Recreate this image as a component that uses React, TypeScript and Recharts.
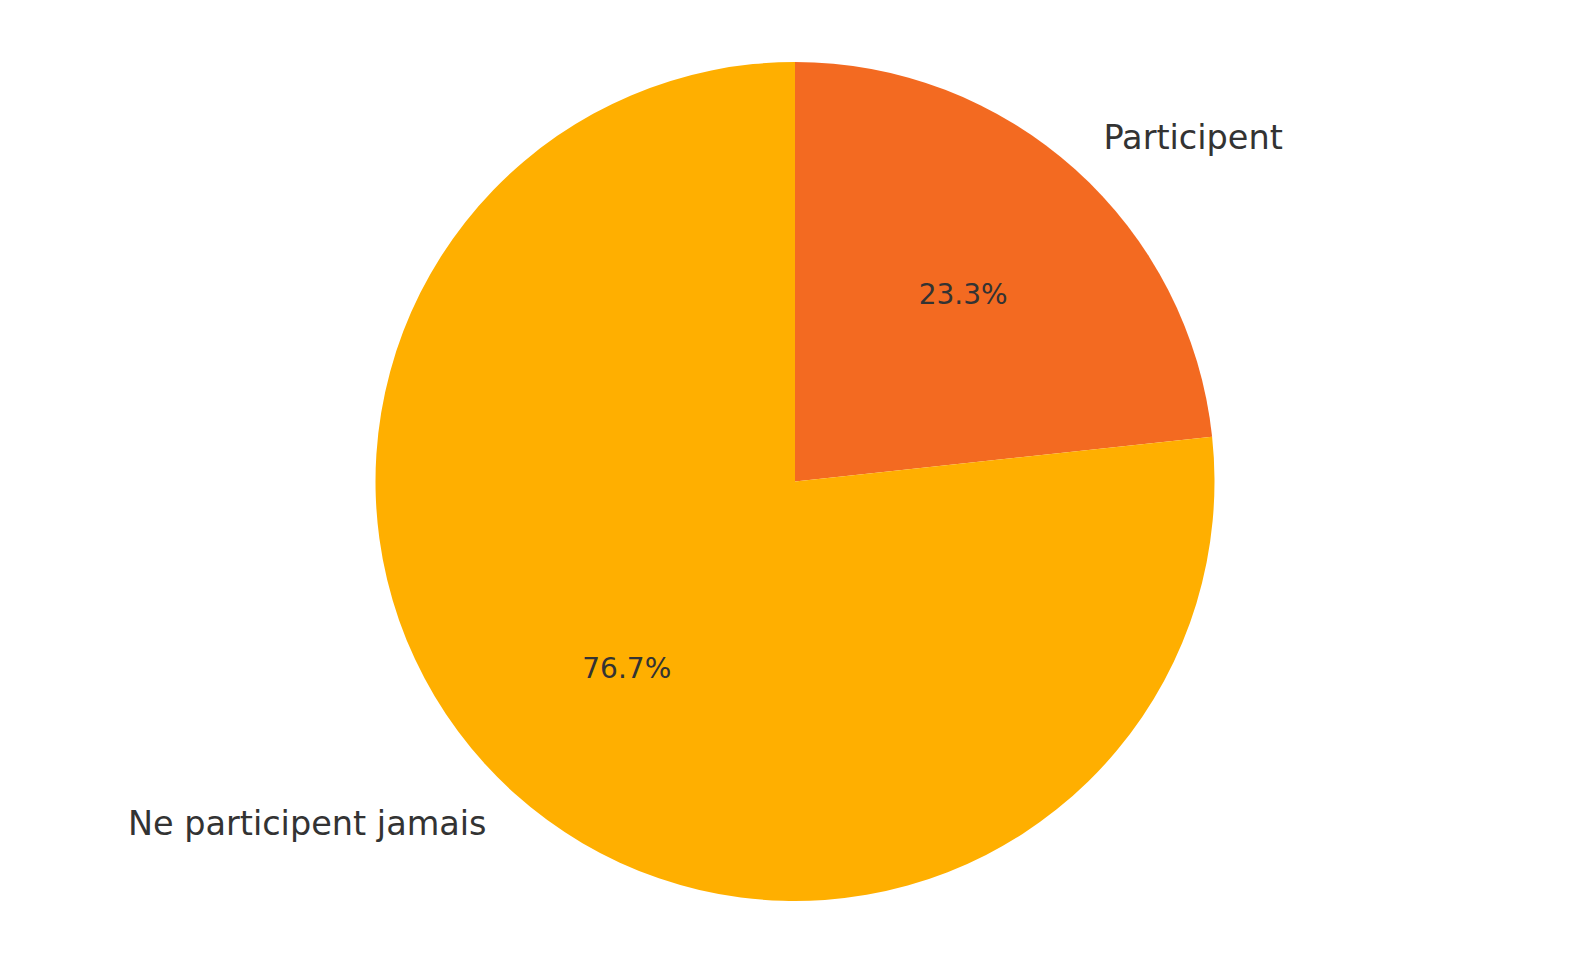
import { PieChart, Pie, Cell } from "recharts";

const categories = ["Participent", "Ne participent jamais"];
const shares = [23.3, 76.7];
const sliceColors = ["#F36A21", "#FFAF00"];

const data = categories.map((name, i) => ({ name, value: shares[i] }));

const RADIAN = Math.PI / 180;
const FONT = "'DejaVu Sans', sans-serif";

const renderLabel = (props: any) => {
  const { cx, cy, midAngle, outerRadius, percent, name } = props;
  const cos = Math.cos(-midAngle * RADIAN);
  const sin = Math.sin(-midAngle * RADIAN);
  const outer = outerRadius * 1.1;
  const inner = outerRadius * 0.6;
  return (
    <g>
      <text
        x={cx + outer * cos}
        y={cy + outer * sin - 1}
        textAnchor={cos >= 0 ? "start" : "end"}
        dominantBaseline="central"
        fill="#333333"
        fontSize={33.5}
        fontFamily={FONT}
      >
        {name}
      </text>
      <text
        x={cx + inner * cos}
        y={cy + inner * sin}
        textAnchor="middle"
        dominantBaseline="central"
        fill="#333333"
        fontSize={28}
        fontFamily={FONT}
      >
        {(percent * 100).toFixed(1)}%
      </text>
    </g>
  );
};

const App = () => {
  return (
    <div
      style={{
        position: "absolute",
        left: 0,
        top: 0,
        width: 1589,
        height: 964,
        background: "#ffffff",
      }}
    >
      <PieChart width={1589} height={964}>
        <Pie
          data={data}
          dataKey="value"
          nameKey="name"
          cx={790}
          cy={476.5}
          outerRadius={419.5}
          startAngle={90}
          endAngle={-270}
          stroke="none"
          labelLine={false}
          label={renderLabel}
          isAnimationActive={false}
        >
          {data.map((d, i) => (
            <Cell key={d.name} fill={sliceColors[i]} />
          ))}
        </Pie>
      </PieChart>
    </div>
  );
};

export default App;
